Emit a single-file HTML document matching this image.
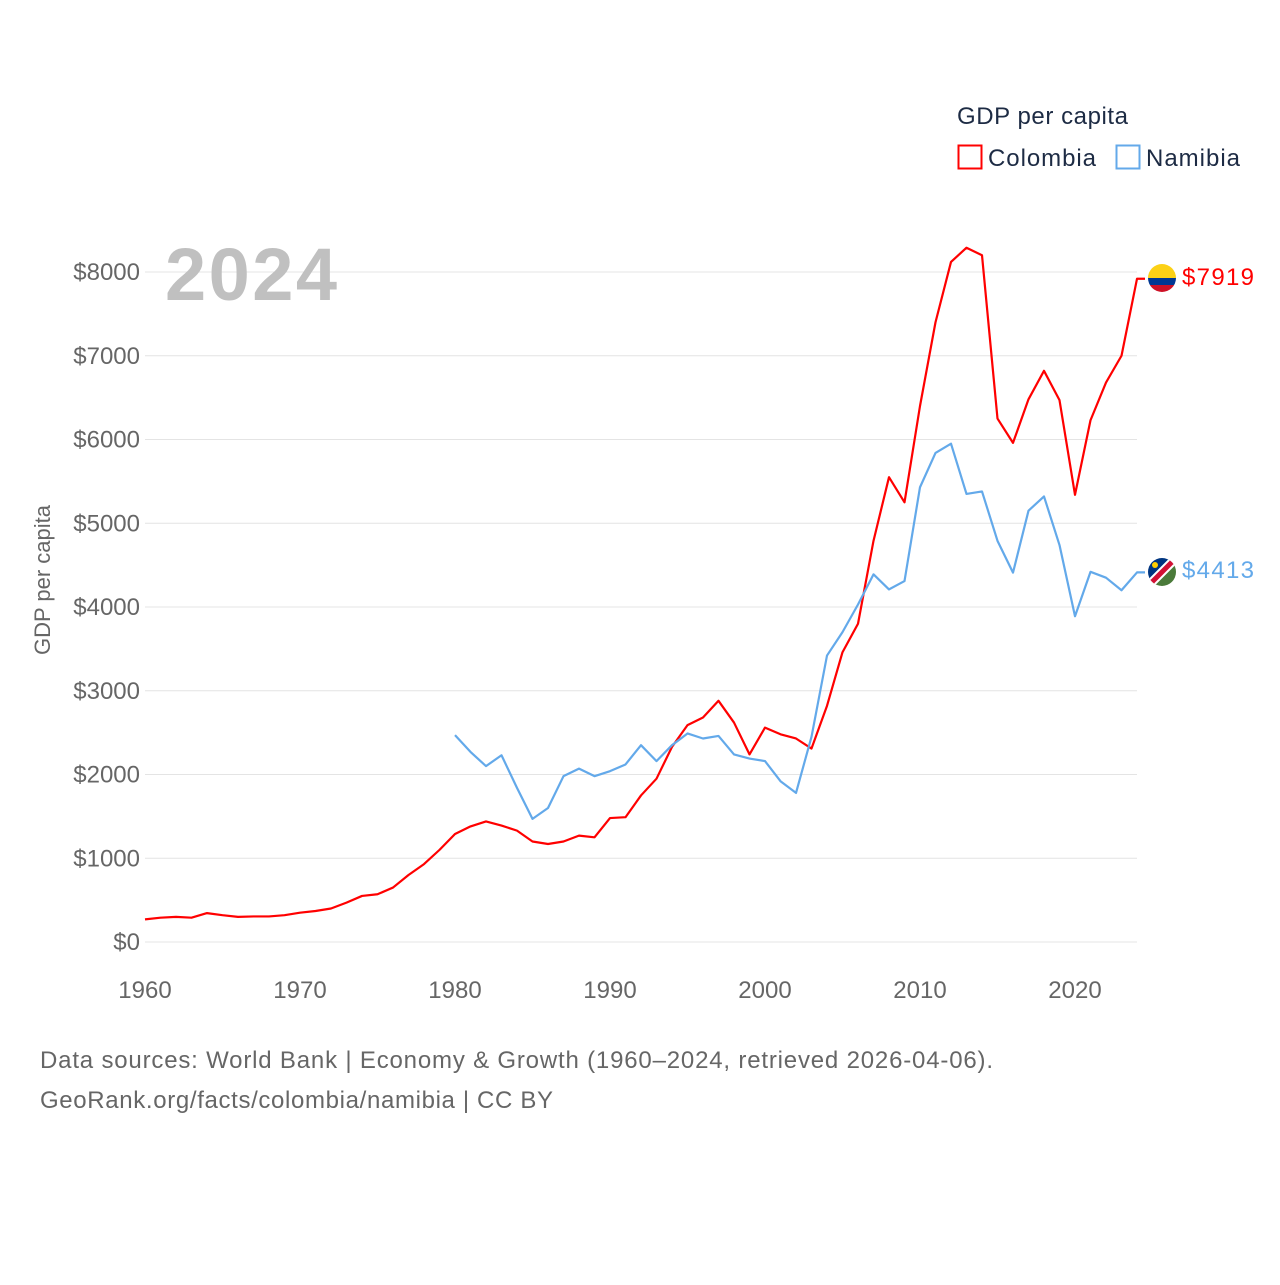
<!DOCTYPE html>
<html><head><meta charset="utf-8"><style>
body{margin:0;background:#fff;font-family:"Liberation Sans",sans-serif}
</style></head><body>
<svg id="chart" width="1280" height="1280" viewBox="0 0 1280 1280" font-family="Liberation Sans, sans-serif">
<rect width="1280" height="1280" fill="#fff"/>
<g id="grid"></g>
<g id="lines"></g>
<text x="165" y="300" font-size="74" font-weight="bold" fill="#c0c0c0" textLength="172">2024</text>
<text x="50" y="580" font-size="22" fill="#666" transform="rotate(-90 50 580)" text-anchor="middle">GDP per capita</text>
<text x="957" y="124" font-size="24" fill="#1d2b44" textLength="171">GDP per capita</text>
<g><rect x="958.5" y="145.5" width="23" height="23" fill="none" stroke="#f00" stroke-width="2"/><text x="988" y="166" font-size="24" fill="#1d2b44" textLength="108">Colombia</text></g>
<g><rect x="1116.5" y="145.5" width="23" height="23" fill="none" stroke="#63a9ea" stroke-width="2"/><text x="1146" y="166" font-size="24" fill="#1d2b44" textLength="94">Namibia</text></g>
<g>
<clipPath id="c1"><circle cx="1162" cy="278" r="14"/></clipPath>
<g clip-path="url(#c1)"><rect x="1148" y="264" width="28" height="14" fill="#fcd116"/><rect x="1148" y="278" width="28" height="7" fill="#003893"/><rect x="1148" y="285" width="28" height="7" fill="#ce1126"/></g></g>
<g>
<clipPath id="c2"><circle cx="1162" cy="572" r="14"/></clipPath>
<g clip-path="url(#c2)"><polygon points="1148,558 1176,558 1148,586" fill="#003580"/><polygon points="1176,558 1176,586 1148,586" fill="#4a7a3a"/><line x1="1148" y1="586" x2="1176" y2="558" stroke="#fff" stroke-width="9"/><line x1="1148" y1="586" x2="1176" y2="558" stroke="#d21034" stroke-width="5"/><circle cx="1155" cy="565" r="3" fill="#ffce00"/></g></g>
<text x="1182" y="285" font-size="24" fill="#f00" textLength="72">$7919</text>
<text x="1182" y="578" font-size="24" fill="#63a9ea" textLength="72">$4413</text>
<text x="40" y="1068" font-size="24" fill="#666" textLength="953">Data sources: World Bank | Economy &amp; Growth (1960–2024, retrieved 2026-04-06).</text>
<text x="40" y="1108" font-size="24" fill="#666" textLength="513">GeoRank.org/facts/colombia/namibia | CC BY</text>
</svg>
<script>
const yTicks=[0,1000,2000,3000,4000,5000,6000,7000,8000];
const xTicks=[1960,1970,1980,1990,2000,2010,2020];
const colYears=[1960,1961,1962,1963,1964,1965,1966,1967,1968,1969,1970,1971,1972,1973,1974,1975,1976,1977,1978,1979,1980,1981,1982,1983,1984,1985,1986,1987,1988,1989,1990,1991,1992,1993,1994,1995,1996,1997,1998,1999,2000,2001,2002,2003,2004,2005,2006,2007,2008,2009,2010,2011,2012,2013,2014,2015,2016,2017,2018,2019,2020,2021,2022,2023,2024];
const colombia=[270,290,300,290,345,320,300,305,305,320,350,370,400,470,550,570,650,800,930,1100,1290,1380,1440,1390,1330,1200,1170,1200,1270,1250,1480,1490,1750,1950,2330,2590,2680,2880,2620,2240,2560,2480,2430,2310,2820,3460,3800,4790,5550,5250,6400,7400,8120,8290,8200,6250,5960,6480,6820,6470,5340,6230,6680,7000,7919];
const namYears=[1980,1981,1982,1983,1984,1985,1986,1987,1988,1989,1990,1991,1992,1993,1994,1995,1996,1997,1998,1999,2000,2001,2002,2003,2004,2005,2006,2007,2008,2009,2010,2011,2012,2013,2014,2015,2016,2017,2018,2019,2020,2021,2022,2023,2024];
const namibia=[2470,2270,2100,2230,1840,1470,1600,1980,2070,1980,2040,2120,2350,2160,2350,2490,2430,2460,2240,2190,2160,1920,1780,2450,3420,3700,4030,4390,4210,4310,5430,5840,5950,5350,5380,4790,4410,5150,5320,4740,3890,4420,4350,4200,4413];
const X=y=>145+(y-1960)*15.5, Y=v=>942-v*0.08375;
const NS="http://www.w3.org/2000/svg";
const grid=document.getElementById('grid'), lines=document.getElementById('lines');
function mk(t,a,p){const e=document.createElementNS(NS,t);for(const k in a)e.setAttribute(k,a[k]);p.appendChild(e);return e;}
yTicks.forEach(v=>{
 const l=mk('line',{x1:145,x2:1137,y1:Y(v),y2:Y(v),stroke:'#e4e4e4','stroke-width':1},grid);
 
 
 const t=mk('text',{x:140,y:Y(v)+8,'text-anchor':'end','font-size':24,fill:'#666'},grid);
 t.textContent='$'+v;
 
 
});
xTicks.forEach(y=>{
 const t=mk('text',{x:X(y),y:998,'text-anchor':'middle','font-size':24,fill:'#666'},grid);
 t.textContent=y;
 
 
});
function series(yrs,vals,col,name){
 const last=vals[vals.length-1];
 const d=yrs.map((y,i)=>(i?'L':'M')+X(y)+','+Y(vals[i])).join(' ')+' L'+(X(yrs[yrs.length-1])+8)+','+Y(last);
 const p=mk('path',{d:d,fill:'none',stroke:col,'stroke-width':2.2,'stroke-linejoin':'round'},lines);
 
 
}
series(colYears,colombia,'#f00','line-colombia');
series(namYears,namibia,'#63a9ea','line-namibia');
</script>
</body></html>
